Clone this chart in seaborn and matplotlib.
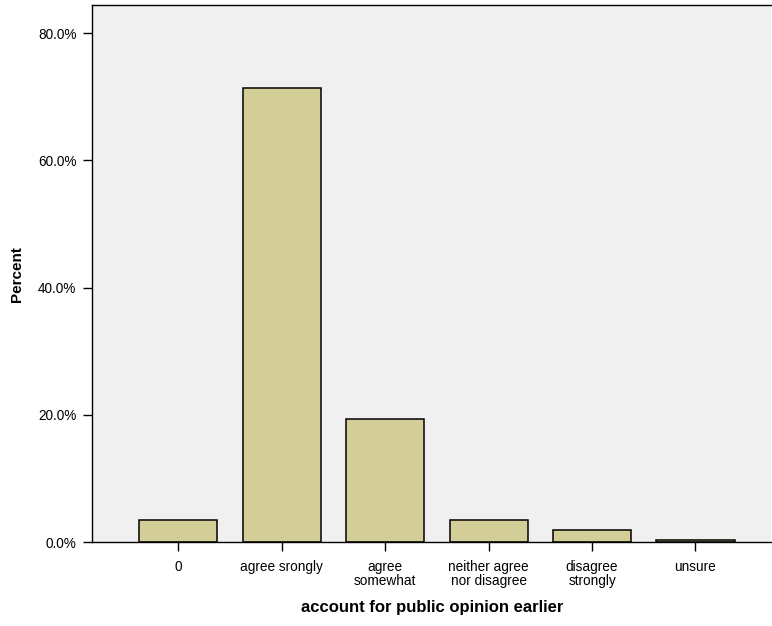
import matplotlib
matplotlib.use("Agg")
import matplotlib.pyplot as plt
import seaborn as sns
import pandas as pd
from matplotlib.ticker import FuncFormatter

categories = ["0", "agree srongly", "agree\nsomewhat", "neither agree\nnor disagree", "disagree\nstrongly", "unsure"]
percents = [3.5, 71.4, 19.3, 3.5, 2.0, 0.35]

df = pd.DataFrame({"category": categories, "percent": percents})

sns.set_theme(style="ticks")
plt.rcParams['font.family'] = ['Liberation Sans', 'DejaVu Sans']
plt.rcParams['text.color'] = 'black'
plt.rcParams['axes.labelcolor'] = 'black'
plt.rcParams['xtick.color'] = 'black'
plt.rcParams['ytick.color'] = 'black'

fig = plt.figure(figsize=(7.72, 6.26), dpi=100)
ax = fig.add_axes([0.1198, 0.1337, 0.8789, 0.8583])
ax.set_facecolor("#F0F0F0")

sns.barplot(data=df, x="category", y="percent", ax=ax, color="#D3CE97",
            saturation=1, width=0.755, edgecolor="black", linewidth=1.1)

ax.set_xlim(-0.83, 5.73)
ax.set_ylim(0, 84.4)
ax.set_yticks([0, 20, 40, 60, 80])
ax.yaxis.set_major_formatter(FuncFormatter(lambda v, p: f"{v:.1f}%"))

ax.set_xlabel("account for public opinion earlier", fontsize=12, fontweight="bold", labelpad=8.5)
ax.set_ylabel("Percent", fontsize=11, fontweight="bold", labelpad=10)

ax.tick_params(axis="both", direction="out", length=6.5, width=1.0, color="black", labelsize=9.8)
ax.tick_params(axis="x", pad=6.5)
ax.tick_params(axis="y", pad=5)
for lbl in ax.get_xticklabels():
    lbl.set_linespacing(0.98)

for side in ["left", "bottom", "top", "right"]:
    ax.spines[side].set_color("black")
    ax.spines[side].set_linewidth(1.0)
ax.spines["right"].set_visible(False)

fig.savefig("out.png", dpi=100)
